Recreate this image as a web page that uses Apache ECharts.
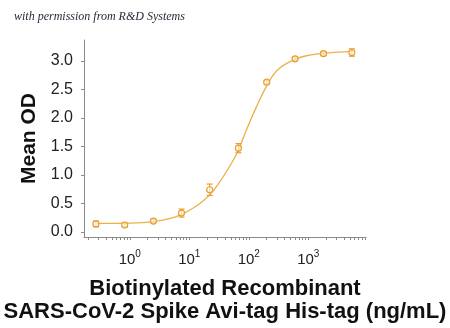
<!DOCTYPE html>
<html>
<head>
<meta charset="utf-8">
<script src="https://cdn.jsdelivr.net/npm/echarts@6/dist/echarts.min.js"></script>
<style>
html,body{margin:0;padding:0;background:#fff;}
#chart{width:450px;height:328px;}
</style>
</head>
<body>
<div id="chart"></div>
<script>
// Measured points (concentration ng/mL, mean OD, error)
var conc = [0.27, 0.82, 2.5, 7.4, 22, 67, 200, 600, 1800, 5400];
var meanOD = [0.14, 0.12, 0.19, 0.33, 0.74, 1.47, 2.63, 3.04, 3.13, 3.15];
var errOD = [0.05, 0.03, 0.03, 0.07, 0.10, 0.08, 0.03, 0.03, 0.03, 0.065];
// Fitted curve
var curveConc = [0.28, 1, 2.5, 5, 7.9, 12.6, 17.8, 23.4, 31.6, 42.2, 56.2, 69.2, 91.2, 135, 209, 316, 631, 1000, 2000, 5600];
var curveOD = [0.15, 0.155, 0.18, 0.24, 0.32, 0.44, 0.56, 0.68, 0.86, 1.06, 1.28, 1.47, 1.79, 2.20, 2.60, 2.86, 3.04, 3.10, 3.14, 3.17];
// Tick labels
var xMajorExp = [0, 1, 2, 3];
var yTicks = [0, 0.5, 1.0, 1.5, 2.0, 2.5, 3.0];

var lg = function (v) { return Math.log10(v); };
var xMinorTicks = [];
for (var d = -1; d <= 3; d++) {
  for (var k = 1; k <= 9; k++) {
    var t = d + Math.log10(k);
    if (t >= -0.77 && t <= 3.97) xMinorTicks.push(t);
  }
}
var orange = '#E8A030';
var pts = conc.map(function (c, i) { return [lg(c), meanOD[i], errOD[i]]; });
var curve = curveConc.map(function (c, i) { return [lg(c), curveOD[i]]; });

var chart = echarts.init(document.getElementById('chart'), null, {renderer: 'canvas'});
chart.setOption({
  animation: false,
  backgroundColor: '#fff',
  title: {
    text: 'with permission from R&D Systems',
    left: 9, top: 6,
    textStyle: {fontFamily: 'Liberation Serif', fontStyle: 'italic', fontWeight: 'normal', fontSize: 12, color: '#2a2a3a'}
  },
  grid: {left: 84, right: 84, top: 40, bottom: 91, containLabel: false},
  xAxis: {
    type: 'value', min: -0.77, max: 3.97,
    splitLine: {show: false},
    axisLine: {onZero: false, lineStyle: {color: '#8a8a8a', width: 1}},
    axisTick: {show: true, customValues: xMinorTicks, length: 3, lineStyle: {color: '#8a8a8a'}},
    axisLabel: {
      customValues: xMajorExp, margin: 12,
      formatter: function (v) { return '{a|10}{b|' + Math.round(v) + '}'; },
      rich: {
        a: {fontFamily: 'Liberation Sans', fontSize: 15, color: '#222', lineHeight: 18, verticalAlign: 'bottom'},
        b: {fontFamily: 'Liberation Sans', fontSize: 10, color: '#222', lineHeight: 10, verticalAlign: 'top'}
      }
    },
    name: 'Biotinylated Recombinant\nSARS-CoV-2 Spike Avi-tag His-tag (ng/mL)',
    nameLocation: 'middle', nameGap: 40,
    nameTextStyle: {fontFamily: 'Liberation Sans', fontWeight: 'bold', fontSize: 22, color: '#111', lineHeight: 23}
  },
  yAxis: {
    type: 'value', min: -0.09, max: 3.37,
    splitLine: {show: false},
    axisLine: {show: true, onZero: false, lineStyle: {color: '#8a8a8a', width: 1}},
    axisTick: {show: true, customValues: yTicks, length: 3, lineStyle: {color: '#8a8a8a'}},
    axisLabel: {
      customValues: yTicks, margin: 11,
      formatter: function (v) { return v.toFixed(1); },
      fontFamily: 'Liberation Sans', fontSize: 16, color: '#222'
    },
    name: 'Mean OD', nameLocation: 'middle', nameGap: 43, nameRotate: 90,
    nameTextStyle: {fontFamily: 'Liberation Sans', fontWeight: 'bold', fontSize: 21, color: '#111'}
  },
  series: [
    {
      type: 'line', data: curve, smooth: 0.4, showSymbol: false,
      lineStyle: {color: '#EDB048', width: 1.3}, z: 2
    },
    {
      type: 'custom', z: 3,
      data: pts,
      renderItem: function (params, api) {
        var x = api.value(0), y = api.value(1), e = api.value(2);
        var p = api.coord([x, y]);
        var hi = api.coord([x, y + e]);
        var lo = api.coord([x, y - e]);
        var w = 3;
        var st = {stroke: orange, lineWidth: 1.2, fill: null};
        return {
          type: 'group',
          children: [
            {type: 'line', shape: {x1: p[0], y1: hi[1], x2: p[0], y2: lo[1]}, style: st},
            {type: 'line', shape: {x1: p[0] - w, y1: hi[1], x2: p[0] + w, y2: hi[1]}, style: st},
            {type: 'line', shape: {x1: p[0] - w, y1: lo[1], x2: p[0] + w, y2: lo[1]}, style: st},
            {type: 'circle', shape: {cx: p[0], cy: p[1], r: 3}, style: {stroke: orange, lineWidth: 1.2, fill: 'rgba(255,255,255,0.6)'}}
          ]
        };
      }
    }
  ]
});
</script>
</body>
</html>
